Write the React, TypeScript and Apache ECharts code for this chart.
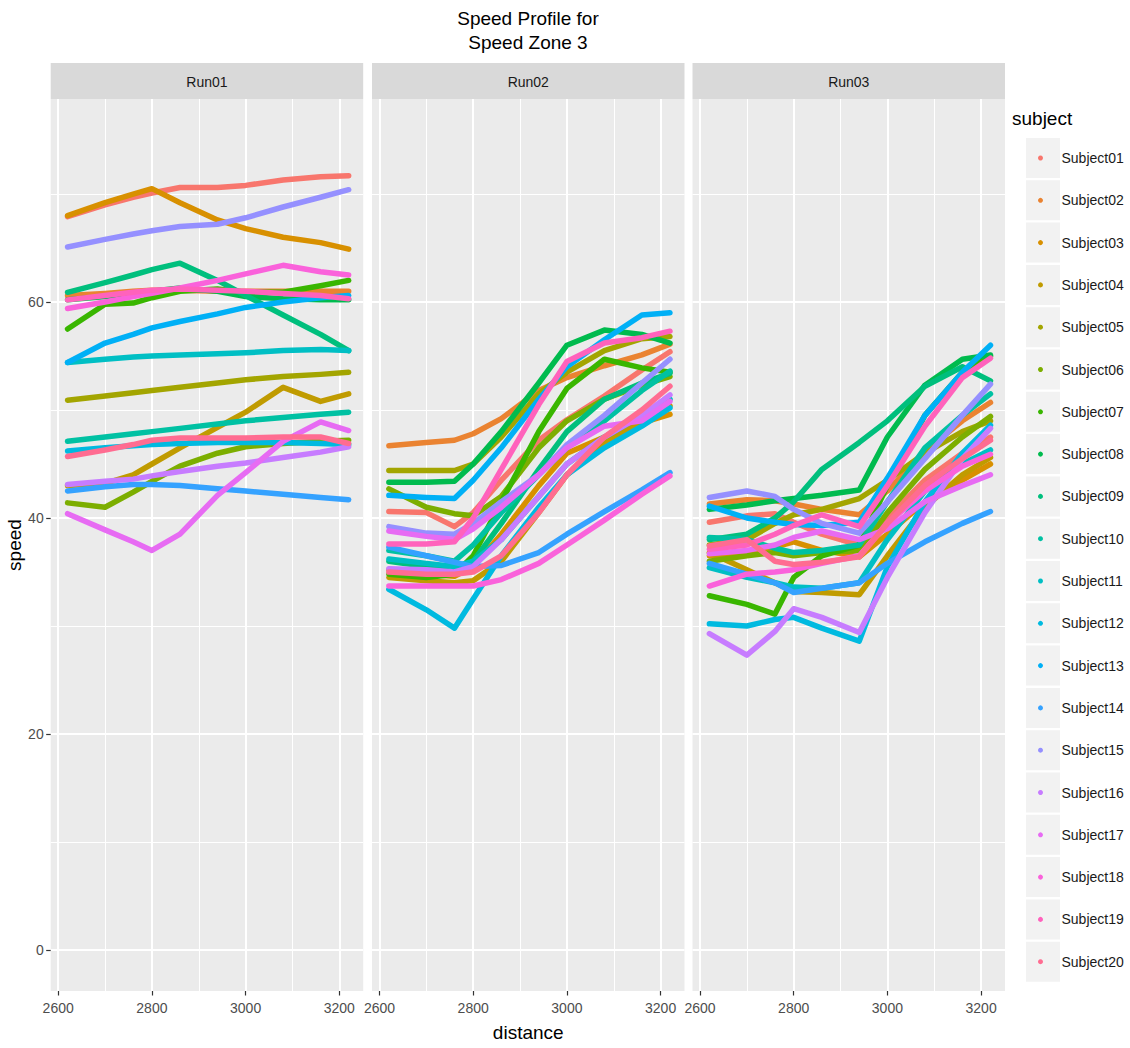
import React, { useEffect, useRef } from "react";
import * as echarts from "echarts";

const TITLE_LINES = ["Speed Profile for", "Speed Zone 3"];
const RUNS = ["Run01", "Run02", "Run03"];
const DISTANCE = [2620, 2700, 2760, 2800, 2860, 2940, 3000, 3080, 3160, 3220];
const X_TICKS = [2600, 2800, 3000, 3200];
const Y_TICKS = [0, 20, 40, 60];
const SUBJECTS = [
  "Subject01", "Subject02", "Subject03", "Subject04", "Subject05",
  "Subject06", "Subject07", "Subject08", "Subject09", "Subject10",
  "Subject11", "Subject12", "Subject13", "Subject14", "Subject15",
  "Subject16", "Subject17", "Subject18", "Subject19", "Subject20",
];
const COLORS = [
  "#F8766D", "#EA8331", "#D89000", "#C09B00", "#A3A500",
  "#7CAE00", "#39B600", "#00BB4E", "#00BF7D", "#00C1A3",
  "#00BFC4", "#00BAE0", "#00B0F6", "#35A2FF", "#9590FF",
  "#C77CFF", "#E76BF3", "#FA62DB", "#FF62BC", "#FF6C91",
];

// speed per subject (rows) at each DISTANCE (columns)
const RUN01_SPEED = [
  [67.9, 69.0, 69.7, 70.1, 70.6, 70.6, 70.8, 71.3, 71.6, 71.7],
  [60.6, 60.8, 61.0, 61.1, 61.1, 61.0, 61.0, 61.0, 61.0, 61.0],
  [68.0, 69.2, 70.0, 70.5, 69.2, 67.6, 66.8, 66.0, 65.5, 64.9],
  [43.0, 43.2, 44.0, 45.0, 46.5, 48.4, 49.8, 52.1, 50.8, 51.5],
  [50.9, 51.3, 51.6, 51.8, 52.1, 52.5, 52.8, 53.1, 53.3, 53.5],
  [41.4, 41.0, 42.4, 43.4, 44.8, 46.0, 46.6, 46.9, 47.1, 47.2],
  [57.5, 59.8, 59.9, 60.4, 61.0, 61.2, 60.9, 60.9, 61.5, 62.0],
  [60.2, 60.5, 60.8, 61.0, 61.3, 61.0, 60.5, 60.3, 60.2, 60.2],
  [60.9, 61.8, 62.5, 63.0, 63.6, 62.0, 60.6, 58.8, 57.0, 55.5],
  [47.1, 47.5, 47.8, 48.0, 48.3, 48.7, 49.0, 49.3, 49.6, 49.8],
  [54.4, 54.7, 54.9, 55.0, 55.1, 55.2, 55.3, 55.5, 55.6, 55.5],
  [46.2, 46.5, 46.7, 46.8, 46.9, 47.0, 47.0, 47.0, 46.9, 46.8],
  [54.4, 56.2, 57.0, 57.6, 58.2, 58.9, 59.5, 60.0, 60.4, 60.6],
  [42.5, 42.9, 43.1, 43.1, 43.0, 42.7, 42.5, 42.2, 41.9, 41.7],
  [65.1, 65.8, 66.3, 66.6, 67.0, 67.2, 67.8, 68.8, 69.7, 70.4],
  [43.1, 43.4, 43.6, 43.9, 44.3, 44.8, 45.1, 45.6, 46.1, 46.6],
  [40.4, 38.9, 37.8, 37.0, 38.5, 42.1, 44.2, 47.1, 48.9, 48.1],
  [59.4, 60.0, 60.5, 60.8, 61.3, 62.0, 62.6, 63.4, 62.8, 62.5],
  [60.2, 60.6, 60.9, 61.1, 61.2, 61.1, 61.0, 60.8, 60.6, 60.3],
  [45.7, 46.3, 46.8, 47.2, 47.4, 47.4, 47.4, 47.5, 47.5, 46.9],
];

const RUN02_SPEED = [
  [40.6, 40.5, 39.2, 40.5, 43.5, 47.2, 49.1, 51.3, 53.7, 55.4],
  [46.7, 47.0, 47.2, 47.8, 49.2, 51.8, 53.0, 54.1, 55.1, 56.1],
  [35.2, 34.8, 34.6, 35.5, 38.5, 43.0, 46.0, 47.5, 48.8, 49.6],
  [34.5, 34.2, 34.0, 34.2, 36.0, 40.5, 44.0, 47.0, 49.0, 50.4],
  [44.4, 44.4, 44.4, 45.0, 47.5, 51.5, 53.5, 55.5, 56.6, 56.8],
  [42.7, 41.0, 40.4, 40.2, 42.0, 46.5, 49.0, 51.0, 52.3, 53.1],
  [34.8, 34.5, 34.8, 36.5, 41.5, 48.0, 52.0, 54.7, 53.9, 53.5],
  [43.3, 43.3, 43.4, 45.0, 48.0, 52.5, 56.0, 57.4, 57.0, 56.2],
  [36.0, 35.5, 35.0, 36.0, 39.5, 44.5, 48.0, 51.0, 52.5, 53.4],
  [37.0, 36.5, 36.0, 37.5, 40.5, 44.0, 46.5, 49.0, 51.8, 53.6],
  [36.2, 35.8, 35.5, 36.0, 38.0, 42.0, 45.0, 47.5, 49.5, 51.0],
  [33.4, 31.5, 29.8, 32.5, 36.5, 41.0, 44.0, 46.5, 48.5, 50.2],
  [42.1, 41.9, 41.8, 43.5, 46.5, 51.0, 54.0, 56.5, 58.8, 59.0],
  [37.3, 36.5, 35.9, 35.5, 35.6, 36.8, 38.5, 40.6, 42.6, 44.2],
  [39.2, 38.6, 38.5, 39.5, 41.5, 44.0, 46.8, 49.5, 52.5, 54.7],
  [35.3, 35.2, 35.0, 35.5, 38.0, 42.0, 45.0, 47.5, 49.5, 51.4],
  [38.8, 38.3, 38.0, 39.0, 41.0, 44.0, 46.5, 48.5, 49.0, 50.8],
  [33.7, 33.7, 33.7, 33.7, 34.3, 35.8, 37.5, 39.8, 42.2, 43.9],
  [37.6, 37.6, 37.8, 40.0, 44.5, 50.5, 54.5, 56.2, 56.7, 57.3],
  [35.0, 34.8, 34.8, 35.0, 36.5, 40.5, 44.0, 47.5, 50.0, 52.2],
];

const RUN03_SPEED = [
  [39.6, 40.2, 40.4, 39.6, 38.5, 37.5, 40.0, 43.5, 46.0, 47.5],
  [41.3, 41.7, 41.6, 41.3, 40.8, 40.3, 42.5, 46.2, 49.0, 50.7],
  [36.5, 36.8, 37.3, 37.8, 37.0, 36.4, 38.5, 41.5, 43.5, 45.0],
  [36.8, 35.2, 34.0, 33.2, 33.1, 32.9, 36.5, 41.0, 44.0, 45.6],
  [37.5, 38.0, 39.5, 40.3, 40.8, 41.8, 43.5, 46.0, 48.0, 49.0],
  [36.0, 36.5, 36.8, 36.5, 36.8, 37.0, 40.5, 44.5, 47.5, 49.4],
  [32.8, 32.0, 31.1, 34.5, 36.5, 37.5, 43.0, 49.5, 53.5, 55.0],
  [40.8, 41.2, 41.6, 41.8, 42.1, 42.6, 47.5, 52.3, 54.7, 55.1],
  [38.0, 38.5, 40.0, 41.5, 44.5, 47.0, 49.0, 52.2, 54.0, 52.7],
  [38.2, 38.0, 37.2, 36.8, 37.0, 37.5, 41.5, 46.5, 49.5, 51.5],
  [35.4, 34.5, 34.0, 33.6, 33.5, 34.0, 38.0, 42.5, 45.0, 46.3],
  [30.2, 30.0, 30.6, 30.8, 29.8, 28.6, 35.5, 41.5, 46.0, 48.6],
  [41.1, 40.0, 39.6, 39.4, 39.3, 39.6, 43.7, 49.5, 53.5, 56.0],
  [35.8, 34.8, 34.0, 33.1, 33.5, 34.0, 35.8, 37.8, 39.5, 40.6],
  [41.9, 42.5, 42.0, 40.8, 39.5, 38.6, 41.5, 45.5, 49.5, 52.4],
  [29.3, 27.3, 29.5, 31.6, 30.8, 29.4, 34.5, 40.5, 45.5, 48.3],
  [36.7, 37.0, 37.5, 38.2, 38.8, 38.0, 39.0, 41.5, 43.0, 44.0],
  [33.7, 34.8, 35.0, 35.2, 35.8, 36.5, 39.5, 42.5, 44.8, 45.9],
  [37.1, 37.5, 38.5, 39.3, 40.3, 39.2, 43.0, 48.5, 53.0, 54.8],
  [37.4, 38.0, 36.0, 35.7, 35.9, 36.4, 39.5, 43.0, 45.5, 47.2],
];

const RUN_SPEEDS = [RUN01_SPEED, RUN02_SPEED, RUN03_SPEED];

const FONT = "'Liberation Sans', Arial, sans-serif";
const PANEL_LEFTS = [50.7, 372, 692.5];
const PANEL_W = 312.5;
const PANEL_TOP = 99;
const PANEL_H = 892;
const X_MIN = 2584;
const X_MAX = 3251;
const Y_MIN = -3.8;
const Y_MAX = 78.8;

export default function App() {
  const ref = useRef<HTMLDivElement>(null);

  useEffect(() => {
    if (!ref.current) return;
    const chart = echarts.init(ref.current, undefined, { renderer: "svg" });

    const grids = PANEL_LEFTS.map((left) => ({
      left,
      top: PANEL_TOP,
      width: PANEL_W,
      height: PANEL_H,
      show: true,
      backgroundColor: "#EBEBEB",
      borderWidth: 0,
      containLabel: false,
      outerBoundsMode: "none",
    }));

    const tickStyle = { show: true, inside: false, length: 4.5, lineStyle: { color: "#333333", width: 1.2 } };

    const xAxes = RUNS.map((_, r) => ({
      type: "value",
      gridIndex: r,
      position: "bottom",
      min: X_MIN,
      max: X_MAX,
      minInterval: 200,
      maxInterval: 200,
      axisLine: { show: false, onZero: false },
      axisTick: { ...tickStyle, customValues: X_TICKS },
      axisLabel: {
        show: true,
        customValues: X_TICKS,
        color: "#4D4D4D",
        fontFamily: FONT,
        fontSize: 14,
        margin: 10,
        formatter: (v: number) => (v % 200 === 0 ? String(v) : ""),
      },
      splitLine: { show: true, lineStyle: { color: "#FFFFFF", width: 2 } },
      minorTick: { show: false, splitNumber: 2 },
      minorSplitLine: { show: true, lineStyle: { color: "#FFFFFF", width: 1 } },
      name: r === 1 ? "distance" : "",
      nameLocation: "middle",
      nameGap: 32,
      nameTextStyle: { color: "#000000", fontFamily: FONT, fontSize: 19 },
    }));

    const yAxes = RUNS.map((_, r) => ({
      type: "value",
      gridIndex: r,
      position: "left",
      min: Y_MIN,
      max: Y_MAX,
      minInterval: 20,
      maxInterval: 20,
      axisLine: { show: false, onZero: false },
      axisTick: { ...tickStyle, show: r === 0, customValues: Y_TICKS },
      axisLabel: {
        show: r === 0,
        customValues: Y_TICKS,
        color: "#4D4D4D",
        fontFamily: FONT,
        fontSize: 14,
        margin: 7,
        formatter: (v: number) => (v % 20 === 0 ? String(v) : ""),
      },
      splitLine: { show: true, lineStyle: { color: "#FFFFFF", width: 2 } },
      minorTick: { show: false, splitNumber: 2 },
      minorSplitLine: { show: true, lineStyle: { color: "#FFFFFF", width: 1 } },
      name: r === 0 ? "speed" : "",
      nameLocation: "middle",
      nameGap: 19,
      nameTextStyle: { color: "#000000", fontFamily: FONT, fontSize: 19 },
    }));

    const series: any[] = [];
    RUN_SPEEDS.forEach((runData, r) => {
      runData.forEach((speeds, i) => {
        series.push({
          type: "line",
          name: SUBJECTS[i],
          xAxisIndex: r,
          yAxisIndex: r,
          data: DISTANCE.map((d, k) => [d, speeds[k]]),
          showSymbol: false,
          symbol: "circle",
          smooth: false,
          silent: true,
          lineStyle: { width: 5.5, color: COLORS[i], cap: "round", join: "round" },
          itemStyle: { color: COLORS[i] },
          emphasis: { disabled: true },
        });
      });
    });

    const LEGEND_TOP = 158;
    const LEGEND_STEP = 42.3;

    const graphic: any[] = [
      {
        type: "text",
        x: 528,
        y: 6,
        style: {
          text: TITLE_LINES.join("\n"),
          fill: "#000000",
          fontFamily: FONT,
          fontSize: 19,
          lineHeight: 24,
          textAlign: "center",
          textVerticalAlign: "top",
        },
      },
      {
        type: "text",
        x: 1012,
        y: 118,
        style: {
          text: "subject",
          fill: "#000000",
          fontFamily: FONT,
          fontSize: 19,
          textAlign: "left",
          textVerticalAlign: "middle",
        },
      },
    ];
    RUNS.forEach((run, r) => {
      graphic.push({
        type: "rect",
        shape: { x: PANEL_LEFTS[r], y: 63, width: PANEL_W, height: PANEL_TOP - 63 },
        style: { fill: "#D9D9D9" },
        z: 0,
      });
      graphic.push({
        type: "text",
        x: PANEL_LEFTS[r] + PANEL_W / 2,
        y: 82,
        style: {
          text: run,
          fill: "#1A1A1A",
          fontFamily: FONT,
          fontSize: 14,
          textAlign: "center",
          textVerticalAlign: "middle",
        },
        z: 1,
      });
    });
    SUBJECTS.forEach((_, i) => {
      graphic.push({
        type: "rect",
        shape: { x: 1026, y: LEGEND_TOP + i * LEGEND_STEP - 20, width: 34, height: 40 },
        style: { fill: "#F2F2F2" },
        z: 0,
      });
    });

    chart.setOption({
      animation: false,
      backgroundColor: "#FFFFFF",
      grid: grids,
      xAxis: xAxes,
      yAxis: yAxes,
      series,
      graphic,
      legend: {
        show: true,
        data: SUBJECTS,
        orient: "vertical",
        left: 1038,
        top: LEGEND_TOP - 10,
        icon: "circle",
        itemWidth: 32,
        itemHeight: 5,
        itemGap: LEGEND_STEP - 20,
        selectedMode: false,
        padding: 0,
        textStyle: { color: "#1A1A1A", fontFamily: FONT, fontSize: 14, lineHeight: 20 },
        z: 10,
      },
    });

    return () => {
      chart.dispose();
    };
  }, []);

  return (
    <div
      ref={ref}
      style={{ position: "absolute", left: 0, top: 0, width: 1130, height: 1048, background: "#fff" }}
    />
  );
}
